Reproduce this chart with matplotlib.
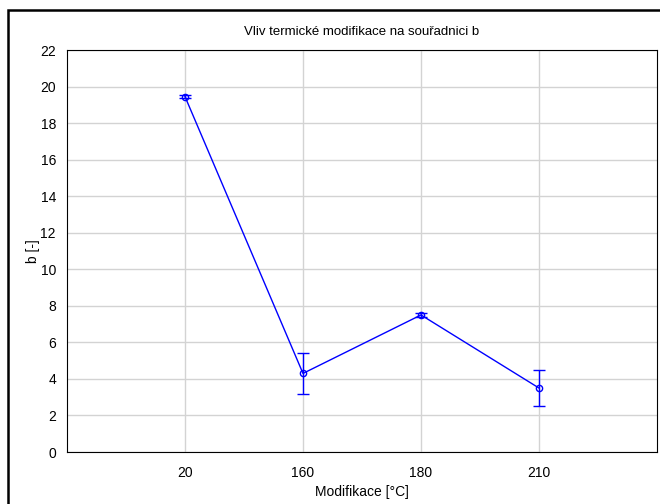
import matplotlib
matplotlib.use('Agg')
import matplotlib.pyplot as plt
from matplotlib.patches import Rectangle

plt.rcParams['font.family'] = ['Liberation Sans', 'DejaVu Sans']

categories = ['20', '160', '180', '210']
b_mean = [19.45, 4.3, 7.5, 3.5]
b_low = [19.35, 3.17, 7.4, 2.52]
b_high = [19.55, 5.42, 7.6, 4.49]

x = list(range(1, len(categories) + 1))
err_lo = [m - l for m, l in zip(b_mean, b_low)]
err_hi = [h - m for m, h in zip(b_mean, b_high)]

fig = plt.figure(figsize=(6.6, 5.04), dpi=100)
# outer frame (only left/top visible in the original)
fig.patches.append(Rectangle((8/660, -0.1), 1.2, 1.1 - 11/504 + 0.001,
                             transform=fig.transFigure, fill=False,
                             edgecolor='black', linewidth=1.8))

ax = fig.add_axes([67/660, 52/504, 590/660, 402/504])
ax.errorbar(x, b_mean, yerr=[err_lo, err_hi], color='blue', lw=1,
            marker='o', markersize=4.5, mfc='none', mec='blue', mew=1,
            capsize=4.5, elinewidth=1, capthick=1)

ax.set_xlim(0, 5)
ax.set_ylim(0, 22)
ax.set_xticks(x)
ax.set_xticklabels(categories)
ax.set_yticks(range(0, 23, 2))
ax.grid(True, color='#d3d3d3', lw=1)
ax.set_axisbelow(True)
ax.tick_params(labelsize=10, length=0, width=0.8)
ax.tick_params(axis='x', pad=10)
ax.tick_params(axis='y', pad=8)
for s in ax.spines.values():
    s.set_linewidth(0.8)

ax.set_title('Vliv termické modifikace na souřadnici b', fontsize=9.5, pad=11)
ax.set_xlabel('Modifikace [°C]', fontsize=10, labelpad=4)
ax.set_ylabel('b [-]', fontsize=10, labelpad=0)

fig.savefig('out.png', dpi=100)
